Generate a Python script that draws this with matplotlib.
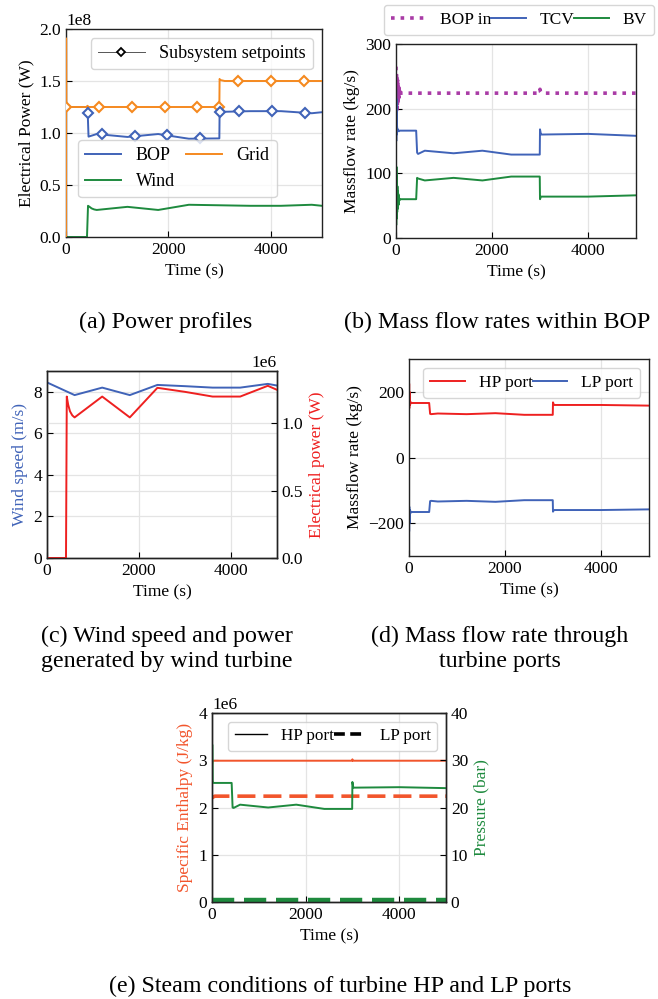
import numpy as np
import matplotlib
matplotlib.use("Agg")
import matplotlib.pyplot as plt
from matplotlib.lines import Line2D

plt.rcParams['font.family'] = ['Liberation Serif', 'DejaVu Serif']
plt.rcParams['font.size'] = 12.5
plt.rcParams['axes.linewidth'] = 1.0
plt.rcParams['axes.edgecolor'] = '#222222'
plt.rcParams['xtick.direction'] = 'in'
plt.rcParams['ytick.direction'] = 'in'
plt.rcParams['xtick.major.size'] = 4
plt.rcParams['ytick.major.size'] = 4
plt.rcParams['grid.color'] = '#e4e4e4'
plt.rcParams['grid.linewidth'] = 0.9
plt.rcParams['legend.edgecolor'] = '#cccccc'
plt.rcParams['legend.fontsize'] = 13
plt.rcParams['legend.handlelength'] = 2.0

C_BLUE = '#4063b8'
C_ORANGE = '#f5891f'
C_GREEN = '#1e8a3e'
C_PURPLE = '#a93ba6'
C_RED = '#ee2020'
C_ENTH = '#f2552c'

# (a) power profiles
t_grid = [0, 2, 6, 400, 420, 440, 2995, 3000, 3010, 3100, 5000]
p_grid = [0.0, 1.91e8, 1.25e8, 1.25e8, 1.262e8, 1.25e8, 1.25e8, 1.52e8, 1.51e8, 1.50e8, 1.50e8]
t_bop = [0, 420, 440, 600, 1200, 1800, 2400, 2995, 3000, 3600, 4200, 4800, 5000]
p_bop = [1.25e8, 1.25e8, 0.965e8, 0.99e8, 0.962e8, 0.99e8, 0.945e8, 0.948e8, 1.203e8, 1.21e8, 1.21e8, 1.19e8, 1.20e8]
t_wind = [0, 410, 430, 460, 500, 550, 600, 1200, 1800, 2400, 3000, 3600, 4200, 4800, 5000]
p_wind = [0.0, 0.0, 0.30e8, 0.29e8, 0.275e8, 0.265e8, 0.26e8, 0.29e8, 0.26e8, 0.31e8, 0.305e8,
          0.30e8, 0.30e8, 0.31e8, 0.30e8]
sp_t_grid = [0, 650, 1290, 1925, 2565, 2990, 3350, 4000, 4640]
sp_grid = [1.25e8, 1.25e8, 1.25e8, 1.25e8, 1.25e8, 1.25e8, 1.50e8, 1.50e8, 1.50e8]
sp_t_bop = [420, 700, 1340, 1975, 2610, 3000, 3385, 4030, 4670]
sp_bop = [1.19e8, 0.99e8, 0.97e8, 0.98e8, 0.95e8, 1.20e8, 1.21e8, 1.21e8, 1.19e8]

# (b) mass flow rates within BOP
t_bop_in = [0, 4, 8, 12, 16, 20, 24, 28, 32, 36, 40, 44, 48, 52, 56, 60, 64, 68, 72, 76, 80,
            90, 100, 2990, 3000, 3010, 3030, 5000]
m_bop_in = [265, 190, 258, 195, 252, 200, 248, 205, 244, 210, 240, 213, 236, 216, 233, 218,
            230, 220, 228, 222, 226, 224, 224, 224, 230, 226, 224, 224]
t_tcv = [0, 3, 6, 10, 15, 20, 30, 40, 60, 80, 420, 440, 460, 600, 1200, 1800, 2400, 2995,
         3000, 3020, 3040, 4000, 5000]
m_tcv = [140, 230, 150, 215, 160, 175, 165, 168, 165, 166, 166, 132, 130, 135, 131, 135, 129,
         129, 168, 160, 160, 161, 158]
t_bv = [0, 5, 10, 15, 20, 25, 30, 35, 40, 45, 50, 55, 60, 70, 80, 100, 420, 440, 460, 600,
        1200, 1800, 2400, 2995, 3000, 3020, 4000, 5000]
m_bv = [118, 20, 110, 30, 95, 40, 80, 45, 72, 50, 68, 52, 65, 58, 60, 60, 60, 93, 92, 89, 93,
        89, 95, 95, 60, 64, 64, 66]

# (c) wind speed and turbine power
t_ws = [0, 600, 1200, 1800, 2400, 3000, 3600, 4200, 4800, 5000]
ws = [8.45, 7.84, 8.2, 7.84, 8.33, 8.27, 8.2, 8.2, 8.38, 8.3]
t_wp = [0, 413, 430, 460, 500, 550, 600, 1200, 1800, 2400, 3000, 3600, 4200, 4800, 5000]
wp = [0.0, 0.0, 1.20e6, 1.14e6, 1.09e6, 1.06e6, 1.045e6, 1.20e6, 1.045e6, 1.265e6, 1.235e6,
      1.20e6, 1.20e6, 1.28e6, 1.25e6]

# (d) turbine port mass flow
t_port = [0, 3, 6, 10, 20, 40, 60, 420, 440, 460, 600, 1200, 1800, 2400, 2995, 3000, 3020,
          4000, 5000]
m_hp = [140, 225, 150, 200, 160, 168, 166, 166, 133, 132, 134, 132, 135, 130, 130, 168, 160,
        160, 158]
m_lp = [-140, -225, -150, -200, -160, -168, -166, -166, -133, -132, -134, -132, -135, -130,
        -130, -165, -160, -160, -158]

# (e) steam conditions
t_h_hp = [0, 10, 30, 2995, 3000, 3010, 5000]
h_hp = [2.90e6, 2.97e6, 2.99e6, 2.99e6, 3.02e6, 2.99e6, 2.99e6]
t_h_lp = [0, 20, 60, 5000]
h_lp = [2.20e6, 2.22e6, 2.24e6, 2.24e6]
t_p_hp = [0, 5, 15, 30, 420, 440, 460, 600, 1200, 1800, 2400, 2995, 3000, 3020, 4000, 5000]
pr_hp = [25.0, 33.3, 25.5, 25.2, 25.2, 20.0, 19.9, 20.6, 20.0, 20.6, 19.7, 19.7, 25.4, 24.2,
         24.3, 24.1]
t_p_lp = [0, 5000]
pr_lp = [0.35, 0.35]

fig = plt.figure(figsize=(6.58, 9.99), dpi=100)

def add_axes(l, t, r, b):
    W, H = 658.0, 999.0
    ax = fig.add_axes([l / W, 1 - b / H, (r - l) / W, (b - t) / H])
    ax.grid(True)
    ax.set_axisbelow(True)
    ax.set_xlim(0, 5000)
    ax.set_xticks([0, 2000, 4000])
    return ax

# ---- (a)
ax = add_axes(66, 29, 322, 237)
h_bop, = ax.plot(t_bop, p_bop, color=C_BLUE, lw=1.4)
h_grid, = ax.plot(t_grid, p_grid, color=C_ORANGE, lw=1.4, zorder=3)
h_wind, = ax.plot(t_wind, p_wind, color=C_GREEN, lw=1.4)
ax.plot(sp_t_grid, sp_grid, ls='none', marker='D', ms=5, mfc='white', mec=C_ORANGE, mew=1.5,
        zorder=4)
ax.plot(sp_t_bop, sp_bop, ls='none', marker='D', ms=5, mfc='white', mec=C_BLUE, mew=1.5,
        zorder=4)
ax.set_ylim(0, 2e8)
ax.set_yticks([0, 0.5e8, 1e8, 1.5e8, 2e8])
ax.set_xlabel('Time (s)')
ax.set_ylabel('Electrical Power (W)')
sp_handle = Line2D([], [], color='#555555', lw=0.7, marker='D', ms=4.5, mfc='white',
                   mec='black', mew=1.3)
leg1 = ax.legend([sp_handle], ['Subsystem setpoints'], loc='upper right', handlelength=2.6)
ax.add_artist(leg1)
# row-wise order: BOP, Grid / Wind
ax.legend([h_bop, h_wind, h_grid], ['BOP', 'Wind', 'Grid'], loc='lower left',
          bbox_to_anchor=(0.047, 0.19), borderaxespad=0, ncol=2, columnspacing=0.6)

# ---- (b)
ax = add_axes(396, 44, 636, 238)
l1, = ax.plot(t_bop_in, m_bop_in, color=C_PURPLE, ls=':', lw=2.6)
l2, = ax.plot(t_tcv, m_tcv, color=C_BLUE, lw=1.4)
l3, = ax.plot(t_bv, m_bv, color=C_GREEN, lw=1.4)
ax.set_ylim(0, 300)
ax.set_yticks([0, 100, 200, 300])
ax.set_xlabel('Time (s)')
ax.set_ylabel('Massflow rate (kg/s)')
fig.legend([l1, l2, l3], ['BOP in', 'TCV', 'BV'], loc='lower center',
           bbox_to_anchor=(519 / 658, 1 - 35 / 999), borderaxespad=0, ncol=3,
           columnspacing=0.0, fontsize=12.5)

# ---- (c)
ax = add_axes(47, 371, 277, 558)
ax.plot(t_ws, ws, color=C_BLUE, lw=1.4)
ax.set_ylim(0, 9)
ax.set_yticks([0, 2, 4, 6, 8])
ax.set_xlabel('Time (s)')
ax.set_ylabel('Wind speed (m/s)', color=C_BLUE)
ax2 = ax.twinx()
ax2.plot(t_wp, wp, color=C_RED, lw=1.4)
ax2.set_ylim(0, 1.39e6)
ax2.set_yticks([0, 0.5e6, 1e6])
ax2.grid(True)
ax2.set_ylabel('Electrical power (W)', color=C_RED)

# ---- (d)
ax = add_axes(409, 359, 649, 556)
ax.plot(t_port, m_hp, color=C_RED, lw=1.4, label='HP port')
ax.plot(t_port, m_lp, color=C_BLUE, lw=1.4, label='LP port')
ax.set_ylim(-300, 300)
ax.set_yticks([-200, 0, 200])
ax.set_xlabel('Time (s)')
ax.set_ylabel('Massflow rate (kg/s)')
ax.legend(loc='upper right', ncol=2, columnspacing=0.0, fontsize=12.5)

# ---- (e)
ax = add_axes(212, 713, 446, 902)
ax.plot(t_h_hp, h_hp, color=C_ENTH, lw=1.4)
ax.plot(t_h_lp, h_lp, color=C_ENTH, lw=2.6, dashes=(5, 2.2))
ax.set_ylim(0, 4e6)
ax.set_yticks([0, 1e6, 2e6, 3e6, 4e6])
ax.set_xlabel('Time (s)')
ax.set_ylabel('Specific Enthalpy (J/kg)', color=C_ENTH)
ax2 = ax.twinx()
ax2.plot(t_p_hp, pr_hp, color=C_GREEN, lw=1.4)
ax2.plot(t_p_lp, pr_lp, color=C_GREEN, lw=3.2, dashes=(5, 2.2))
ax2.set_ylim(0, 40)
ax2.set_yticks([0, 10, 20, 30, 40])
ax2.set_ylabel('Pressure (bar)', color=C_GREEN)
handles = [Line2D([], [], color='black', lw=1.0),
           Line2D([], [], color='black', lw=2.6, dashes=(3, 1.5))]
ax2.legend(handles, ['HP port', 'LP port'], loc='upper right', ncol=2, columnspacing=0.0,
           fontsize=12.3, handlelength=1.9)

# subfigure captions
cap = dict(fontsize=17.3, ha='center', va='center', linespacing=1.2)
fig.text(166 / 658, 1 - 322 / 999, '(a) Power profiles', **cap)
fig.text(497 / 658, 1 - 322 / 999, '(b) Mass flow rates within BOP', **cap)
fig.text(167 / 658, 1 - 649 / 999, '(c) Wind speed and power\ngenerated by wind turbine', **cap)
fig.text(500 / 658, 1 - 649 / 999, '(d) Mass flow rate through\nturbine ports', **cap)
fig.text(340 / 658, 1 - 986 / 999, '(e) Steam conditions of turbine HP and LP ports', **cap)

fig.savefig('out.png', dpi=100)
